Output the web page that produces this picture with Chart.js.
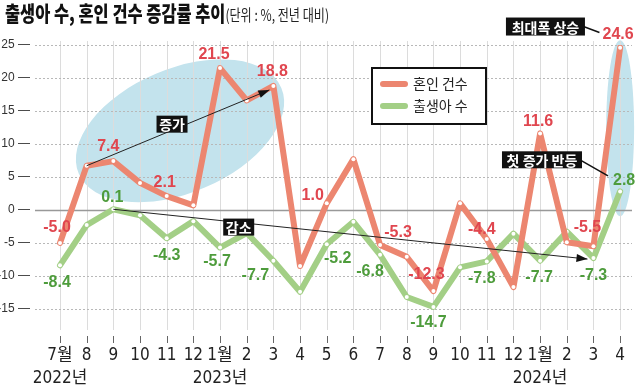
<!DOCTYPE html>
<html>
<head>
<meta charset="utf-8">
<script src="https://cdn.jsdelivr.net/npm/chart.js@4"></script>
<style>
  html, body { margin: 0; padding: 0; background: #fff; }
  #wrap { position: relative; width: 640px; height: 386px; }
  #title { position: absolute; left: 5px; top: -1px; white-space: nowrap; line-height: 26px;
           transform: scaleX(0.78); transform-origin: 0 0; font-family: "Noto Sans CJK KR"; color: #111; }
  #title b { font-size: 21px; font-weight: 900; }
  #title span { font-size: 15.5px; font-weight: 400; color: #222; }
  canvas { position: absolute; left: 0; top: 0; }
</style>
</head>
<body>
<div id="wrap">
  <canvas id="myChart" width="640" height="386"></canvas>
  <div id="title"><b>출생아 수, 혼인 건수 증감률 추이</b><span>(단위 : %, 전년 대비)</span></div>
</div>
<script>
let months = ["7월", "8", "9", "10", "11", "12", "1월", "2", "3", "4", "5", "6", "7", "8", "9", "10", "11", "12", "1월", "2", "3", "4"];
let years = ["2022년", "", "", "", "", "", "2023년", "", "", "", "", "", "", "", "", "", "", "", "2024년", "", "", ""];

// 혼인 건수 증감률 (%)
let marriage = [-5.0, 6.7, 7.4, 4.1, 2.1, 0.7, 21.5, 16.6, 18.8, -8.5, 1.0, 7.7, -5.3, -7.1, -12.3, 1.0, -4.4, -11.7, 11.6, -4.9, -5.5, 24.6];
// 출생아 수 증감률 (%)
let births = [-8.4, -2.3, 0.1, -0.8, -4.3, -1.7, -5.7, -3.5, -7.7, -12.4, -5.2, -1.8, -6.8, -13.2, -14.7, -8.7, -7.8, -3.6, -7.7, -3.3, -7.3, 2.8];

let seriesNames = ["혼인 건수", "출생아 수"];

// where the value labels sit, relative to the point (px)
let marriageLabelPos = {0: [-3, -15], 2: [-5, -15], 4: [-2, -13], 6: [-6, -13], 8: [-1, -14], 10: [-14, -8],
  12: [18, -12], 14: [-7, -16], 16: [-5, -9], 18: [-2, -12], 20: [-6, -19], 21: [-2, -13]};
let birthLabelPos = {0: [-3, 17], 2: [-1, -12], 4: [0, 17], 6: [-3, 14], 8: [-18, 15], 10: [11, 14],
  12: [-10, 17], 14: [-5, 16], 16: [-5, 17], 18: [-1, 17], 20: [0, 18], 21: [4, -11]};

const numFont = '"Liberation Sans Narrow", "DejaVu Sans Condensed", "Noto Sans CJK KR", sans-serif';
const krFont = '"Noto Sans CJK KR", sans-serif';

function box(ctx, text, cx, cy, w, h) {
  ctx.fillStyle = "#111";
  ctx.fillRect(cx - w / 2, cy - h / 2, w, h);
  ctx.fillStyle = "#fff";
  ctx.font = "700 14px " + krFont;
  ctx.textAlign = "center";
  ctx.textBaseline = "middle";
  ctx.fillText(text, cx, cy + 1);
}

function arrow(ctx, x1, y1, x2, y2) {
  ctx.strokeStyle = "#222";
  ctx.lineWidth = 1;
  ctx.beginPath();
  ctx.moveTo(x1, y1);
  ctx.lineTo(x2, y2);
  ctx.stroke();
  let ang = Math.atan2(y2 - y1, x2 - x1);
  ctx.fillStyle = "#111";
  ctx.beginPath();
  ctx.moveTo(x2, y2);
  ctx.lineTo(x2 - 11 * Math.cos(ang) + 4 * Math.sin(ang), y2 - 11 * Math.sin(ang) - 4 * Math.cos(ang));
  ctx.lineTo(x2 - 11 * Math.cos(ang) - 4 * Math.sin(ang), y2 - 11 * Math.sin(ang) + 4 * Math.cos(ang));
  ctx.closePath();
  ctx.fill();
}

const decor = {
  id: "decor",
  beforeDatasetsDraw(chart) {
    const { ctx, chartArea: a, scales: { x, y } } = chart;
    ctx.save();
    // highlight ellipses
    ctx.fillStyle = "#c3e3ed";
    ctx.beginPath();
    ctx.ellipse(x.getPixelForValue(4.5), y.getPixelForValue(12.0), 110, 62, -0.4, 0, Math.PI * 2);
    ctx.fill();
    ctx.beginPath();
    ctx.ellipse(x.getPixelForValue(21), y.getPixelForValue(12.4), 14, 88, 0, 0, Math.PI * 2);
    ctx.fill();

    // vertical grid
    ctx.strokeStyle = "#dcdcdc";
    ctx.lineWidth = 1;
    for (let i = 0; i < months.length; i++) {
      let px = Math.round(x.getPixelForValue(i)) + 0.5;
      ctx.beginPath();
      ctx.moveTo(px, a.top - 4);
      ctx.lineTo(px, a.bottom);
      ctx.stroke();
      ctx.strokeStyle = "#666";
      ctx.beginPath();
      ctx.moveTo(px, a.bottom + 6);
      ctx.lineTo(px, a.bottom + 13);
      ctx.stroke();
      ctx.strokeStyle = "#dcdcdc";
    }
    // horizontal grid
    y.ticks.forEach(t => {
      let py = Math.round(y.getPixelForValue(t.value)) + 0.5;
      ctx.beginPath();
      if (t.value === 0) {
        ctx.setLineDash([]);
        ctx.strokeStyle = "#999";
        ctx.lineWidth = 1.5;
      } else {
        ctx.setLineDash([2, 2]);
        ctx.strokeStyle = "#b8b8b8";
        ctx.lineWidth = 1;
      }
      ctx.moveTo(35, py);
      ctx.lineTo(632, py);
      ctx.stroke();
    });
    ctx.restore();
  },
  afterDatasetsDraw(chart) {
    const { ctx, scales: { x, y } } = chart;
    ctx.save();
    // value labels
    ctx.font = "700 16px \"Liberation Sans\", sans-serif";
    ctx.textAlign = "center";
    ctx.textBaseline = "middle";
    [[marriage, marriageLabelPos, "#e0464f"], [births, birthLabelPos, "#4e9c3c"]].forEach(([vals, pos, col]) => {
      ctx.fillStyle = col;
      Object.keys(pos).forEach(k => {
        let i = +k;
        let px = x.getPixelForValue(i) + pos[k][0];
        let py = y.getPixelForValue(vals[i]) + pos[k][1];
        ctx.fillText(vals[i].toFixed(1), px, py);
      });
    });

    // 증가 arrow
    let p1 = [x.getPixelForValue(1), y.getPixelForValue(marriage[1])];
    let p2 = [x.getPixelForValue(8) - 4, y.getPixelForValue(marriage[8]) + 4];
    arrow(ctx, p1[0], p1[1], p2[0], p2[1]);
    box(ctx, "증가", x.getPixelForValue(4.2), y.getPixelForValue(13), 31, 17);

    // 감소 arrow
    let q1 = [x.getPixelForValue(2), y.getPixelForValue(births[2])];
    let q2 = [x.getPixelForValue(20) - 6, y.getPixelForValue(births[20]) + 1];
    arrow(ctx, q1[0], q1[1], q2[0], q2[1]);
    box(ctx, "감소", x.getPixelForValue(6.7), y.getPixelForValue(-2.6), 31, 17);

    // 최대폭 상승
    let bx = x.getPixelForValue(18.2), by = y.getPixelForValue(27.8);
    ctx.strokeStyle = "#111";
    ctx.lineWidth = 1.5;
    ctx.beginPath();
    ctx.moveTo(bx + 38, by);
    ctx.lineTo(bx + 54, by + 6);
    ctx.stroke();
    box(ctx, "최대폭 상승", bx, by, 79, 18);

    // 첫 증가 반등
    let cx = x.getPixelForValue(18.07), cy = y.getPixelForValue(7.6);
    ctx.beginPath();
    ctx.moveTo(cx + 38, cy);
    ctx.lineTo(cx + 66, cy + 16);
    ctx.stroke();
    box(ctx, "첫 증가 반등", cx, cy, 80, 17);

    // legend
    ctx.fillStyle = "#fff";
    ctx.fillRect(372, 68, 114, 56);
    ctx.strokeStyle = "#111";
    ctx.lineWidth = 2;
    ctx.strokeRect(372, 68, 114, 56);
    chart.data.datasets.forEach((ds, i) => {
      let ly = 84 + i * 22;
      ctx.strokeStyle = ds.borderColor;
      ctx.lineWidth = 6;
      ctx.lineCap = "round";
      ctx.beginPath();
      ctx.moveTo(383, ly);
      ctx.lineTo(405, ly);
      ctx.stroke();
      ctx.fillStyle = "#222";
      ctx.font = "400 14px " + krFont;
      ctx.textAlign = "left";
      ctx.fillText(ds.label, 413, ly);
    });
    ctx.restore();
  }
};

const ctx = document.getElementById("myChart");
let chart = new Chart(ctx, {
  type: "line",
  data: {
    labels: months.map((m, i) => [m, years[i]]),
    datasets: [
      {
        label: seriesNames[0],
        data: marriage,
        borderColor: "#ec8670",
        borderWidth: 6,
        borderJoinStyle: "round",
        borderCapStyle: "round",
        pointRadius: 2,
        pointBorderWidth: 0,
        pointBackgroundColor: "#fff",
        tension: 0
      },
      {
        label: seriesNames[1],
        data: births,
        borderColor: "#a3cf86",
        borderWidth: 6,
        borderJoinStyle: "round",
        borderCapStyle: "round",
        pointRadius: 2,
        pointBorderWidth: 0,
        pointBackgroundColor: "#fff",
        tension: 0
      }
    ]
  },
  options: {
    responsive: false,
    animation: false,
    layout: { padding: { top: 45, right: 14, left: 0, bottom: 0 } },
    plugins: { legend: { display: false }, tooltip: { enabled: false } },
    scales: {
      x: {
        offset: false,
        grid: { display: false, drawTicks: false },
        border: { display: false },
        ticks: { padding: 15, color: "#222", autoSkip: false, maxRotation: 0,
                 font: { family: numFont, size: 17, lineHeight: 1.3 } },
        afterFit(s) { s.height = 56; }
      },
      y: {
        min: -18.2,
        max: 25,
        grid: { display: false, drawTicks: false },
        border: { display: false },
        ticks: { stepSize: 5, padding: 30, color: "#333",
                 font: { family: "\"Liberation Sans\", sans-serif", size: 12 },
                 callback: v => v + " —" },
        afterBuildTicks(s) {
          s.ticks = s.ticks.filter(t => Math.abs(t.value % 5) < 1e-6 && t.value >= -15);
        },
        afterFit(s) { s.width = 60; }
      }
    }
  },
  plugins: [decor]
});
</script>
</body>
</html>
